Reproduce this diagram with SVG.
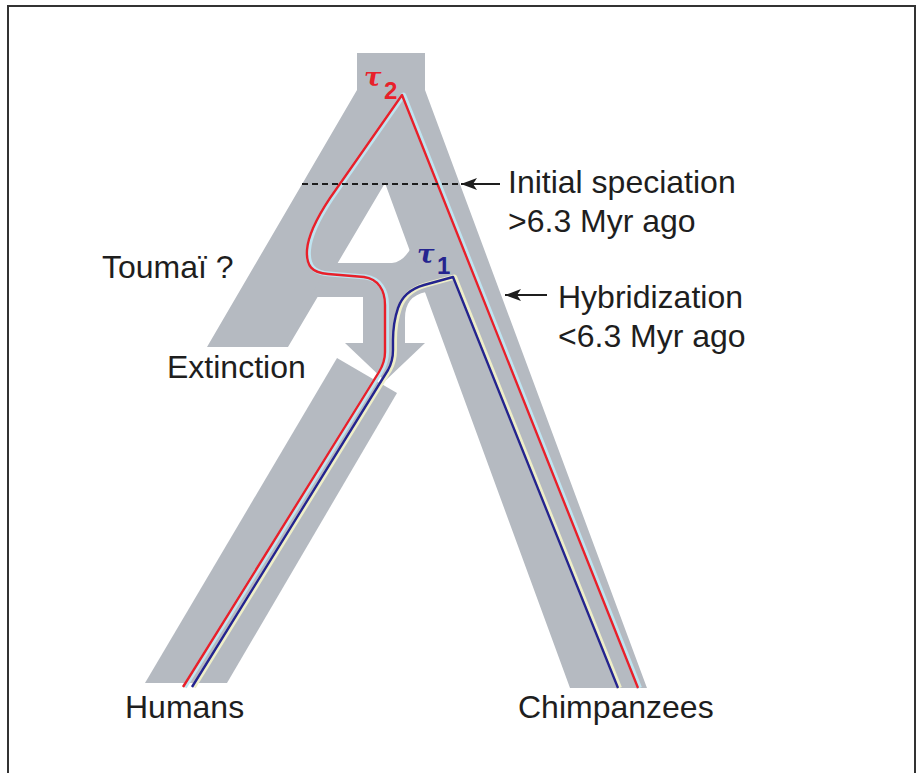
<svg xmlns="http://www.w3.org/2000/svg" width="923" height="773" viewBox="0 0 923 773">
  <style>
    .gray { fill: #b5bac1; }
    .lbl { font-family: "Liberation Sans", Arial, sans-serif; font-size: 32px; fill: #1e1e1e; }
    .tau { font-family: "DejaVu Serif", "Liberation Serif", serif; font-style: italic; font-weight: bold; font-size: 26px; }
    .sub { font-family: "Liberation Sans", Arial, sans-serif; font-weight: bold; font-size: 24px; }
    .halo-r { fill: none; stroke: #bfe4f0; stroke-width: 5; stroke-linejoin: round; }
    .halo-b { fill: none; stroke: #eeeec8; stroke-width: 5; stroke-linejoin: round; }
    .red { fill: none; stroke: #e8202a; stroke-width: 2.4; stroke-linejoin: round; }
    .blue { fill: none; stroke: #24248f; stroke-width: 2.4; stroke-linejoin: round; }
    .arrow { stroke: #1e1e1e; stroke-width: 2; fill: none; }
  </style>
  <defs>
    <marker id="ah" markerUnits="userSpaceOnUse" markerWidth="18" markerHeight="14" refX="16" refY="7" orient="auto">
      <path d="M0,1 L16,7 L0,13 L4,7 Z" fill="#1e1e1e"/>
    </marker>
  </defs>
  <rect x="0" y="0" width="923" height="773" fill="#ffffff"/>
  <rect x="8" y="6" width="907" height="800" fill="none" stroke="#333333" stroke-width="2"/>

  <g id="lineages">
    <path id="main-tree" class="gray" d="M357,53 L425,53 L425,90 L647,688 L570,688 L385,183 L288,347 L207,347 L357,90 Z"/>
    <path id="hybrid-arrow" class="gray" d="M330,263 L392,263 Q403,262 411,248 L426,292 Q405,296 405,318 L405,343 L425,343 L385,381 L345,343 L363,343 L363,297 L310,297 Z"/>
    <path id="human-lineage" class="gray" d="M337,358 L397,393 L227,683 L145,683 Z"/>
  </g>

  <g id="tau2-lineage">
    <path class="halo-r" d="M638,688 L402,95 L330,198 C318,216 308,236 307,250 C306,266 312,273 328,274 L364,277 C378,279 385,290 385,305 L385,352 Q385,362 379,372 L183,687" transform="translate(1.5,0)"/>
    <path class="red" d="M638,688 L402,95 L330,198 C318,216 308,236 307,250 C306,266 312,273 328,274 L364,277 C378,279 385,290 385,305 L385,352 Q385,362 379,372 L183,687"/>
    <text class="tau" x="364" y="86" fill="#e8202a">τ</text>
    <text class="sub" x="384" y="99" fill="#e8202a">2</text>
  </g>

  <g id="tau1-lineage">
    <path class="halo-b" d="M618,688 L453,277 L424,285 C410,289 402,296 398,308 C394,320 393,330 393,340 L393,350 Q393,361 388,370 L192,687" transform="translate(1.5,0)"/>
    <path class="blue" d="M618,688 L453,277 L424,285 C410,289 402,296 398,308 C394,320 393,330 393,340 L393,350 Q393,361 388,370 L192,687"/>
    <text class="tau" x="417" y="263" fill="#24248f">τ</text>
    <text class="sub" x="437" y="274" fill="#24248f">1</text>
  </g>

  <g id="connectors">
    <line id="speciation-level" x1="302" y1="184" x2="460" y2="184" stroke="#1e1e1e" stroke-width="2" stroke-dasharray="6 4"/>
    <line id="speciation-arrow" class="arrow" x1="500" y1="184" x2="461" y2="184" marker-end="url(#ah)"/>
    <line id="hybridization-arrow" class="arrow" x1="547" y1="295" x2="505" y2="295" marker-end="url(#ah)"/>
  </g>

  <g id="labels">
    <text class="lbl" x="508" y="193">Initial speciation</text>
    <text class="lbl" x="508" y="232">&gt;6.3 Myr ago</text>
    <text class="lbl" x="558" y="308">Hybridization</text>
    <text class="lbl" x="558" y="347">&lt;6.3 Myr ago</text>
    <text class="lbl" x="102" y="278" font-size="30">Toumaï ?</text>
    <text class="lbl" x="167" y="378" font-size="31">Extinction</text>
    <text class="lbl" x="125" y="718">Humans</text>
    <text class="lbl" x="518" y="718">Chimpanzees</text>
  </g>
</svg>
